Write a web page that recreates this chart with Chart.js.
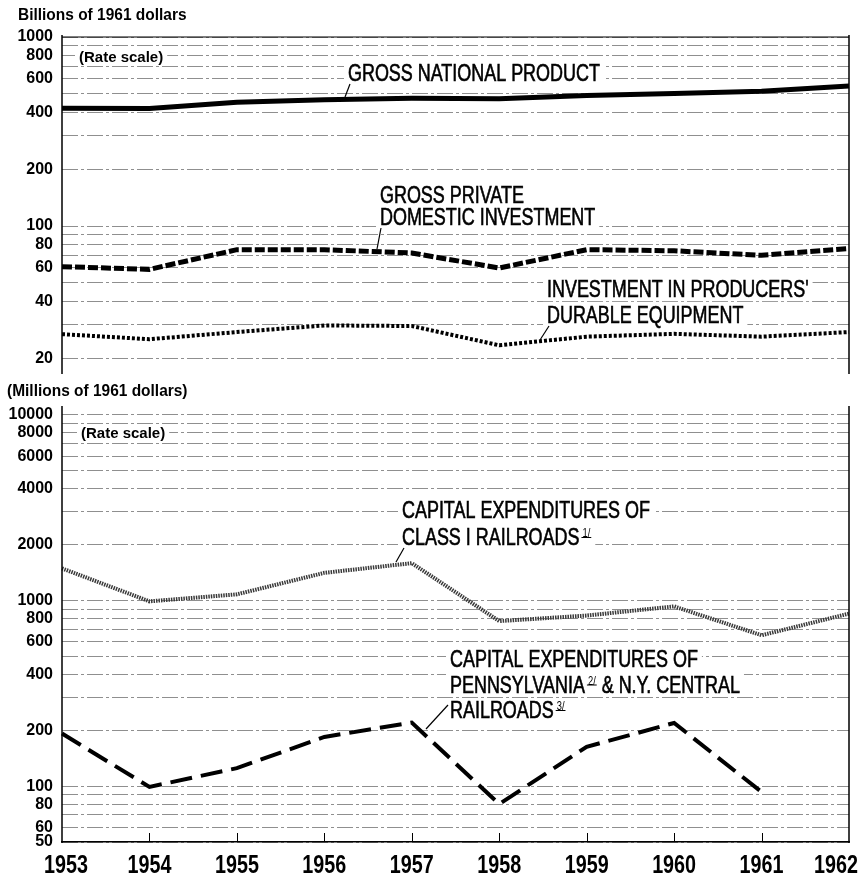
<!DOCTYPE html>
<html lang="en">
<head>
    <meta charset="UTF-8">
    <title>Investment and railroad capital expenditures, 1953-1962</title>
    <script src="https://cdn.jsdelivr.net/npm/chart.js"></script>
    <style>
        body {
            margin: 0;
            background-color: #fff;
        }
        #page {
            position: relative;
            width: 862px;
            height: 875px;
            overflow: hidden;
        }
        canvas {
            position: absolute;
            left: 0;
        }
        #topChart { top: 0; }
        #bottomChart { top: 376px; }
        .unit {
            position: absolute;
            font: bold 17px 'Liberation Sans', Arial, sans-serif;
            line-height: 1;
            white-space: nowrap;
            color: #000;
            transform: scaleX(0.91);
            transform-origin: left top;
        }
    </style>
</head>
<body>
    <div id="page">
        <canvas id="topChart" width="862" height="380"></canvas>
        <canvas id="bottomChart" width="862" height="499"></canvas>
        <div class="unit" style="left:18px; top:6px;">Billions of 1961 dollars</div>
        <div class="unit" style="left:7px; top:382px;">(Millions of 1961 dollars)</div>
    </div>

    <script>
        // Data
        const years = ['1953', '1954', '1955', '1956', '1957', '1958', '1959', '1960', '1961', '1962'];
        const grossNationalProduct = [420, 418, 452, 466, 474, 471, 490, 503, 516, 550];
        const grossPrivateInvestment = [61, 59, 75, 75, 72, 60, 75, 74, 70, 76];
        const equipmentInvestment = [26.8, 25.2, 27.5, 29.8, 29.6, 23.4, 26, 26.9, 26, 27.5];
        const classOneRailroads = [1490, 990, 1080, 1410, 1590, 775, 830, 930, 650, 850];
        const pennNyCentral = [192, 99, 125, 184, 220, 80, 163, 219, 93, null];

        // Rate-scale grid lines and the values that get a label
        const topGridValues = [20, 30, 40, 50, 60, 70, 80, 90, 100, 200, 300, 400, 500, 600, 700, 800, 900, 1000];
        const topTickLabels = [20, 40, 60, 80, 100, 200, 400, 600, 800, 1000];
        const bottomGridValues = [50, 60, 70, 80, 90, 100, 200, 300, 400, 500, 600, 700, 800, 900,
            1000, 2000, 3000, 4000, 5000, 6000, 7000, 8000, 9000, 10000];
        const bottomTickLabels = [50, 60, 80, 100, 200, 400, 600, 800, 1000, 2000, 4000, 6000, 8000, 10000];

        const FONT = "'Liberation Sans', Arial, sans-serif";
        Chart.defaults.font.family = FONT;
        Chart.defaults.color = '#000';
        Chart.defaults.animation = false;

        // Labels drawn onto the plot, with leader lines (page coordinates)
        const topNotes = [
            { x: 79, y: 62, size: 15, bold: true, sx: 1, lines: [[{ t: '(Rate scale)' }]] },
            { x: 348, y: 81, size: 23, lines: [[{ t: 'GROSS NATIONAL PRODUCT' }]], leader: [350, 84, 345, 97] },
            { x: 380, y: 203, size: 23, gap: 22, lines: [[{ t: 'GROSS PRIVATE' }], [{ t: 'DOMESTIC INVESTMENT' }]],
              leader: [381, 228, 377, 249] },
            { x: 547, y: 297, size: 23, gap: 26, lines: [[{ t: "INVESTMENT IN PRODUCERS'" }], [{ t: 'DURABLE EQUIPMENT' }]],
              leader: [549, 326, 540, 340] }
        ];
        const bottomNotes = [
            { x: 81, y: 438, size: 15, bold: true, sx: 1, lines: [[{ t: '(Rate scale)' }]] },
            { x: 402, y: 518, size: 23, gap: 27, lines: [[{ t: 'CAPITAL EXPENDITURES OF' }],
                [{ t: 'CLASS I RAILROADS' }, { t: '1/', sup: true }]], leader: [404, 548, 396, 562] },
            { x: 450, y: 667, size: 23, gap: 25.5, lines: [[{ t: 'CAPITAL EXPENDITURES OF' }],
                [{ t: 'PENNSYLVANIA' }, { t: '2/', sup: true }, { t: ' & N.Y. CENTRAL' }],
                [{ t: 'RAILROADS' }, { t: '3/', sup: true }]], leader: [448, 705, 426, 729] }
        ];

        // narrow lettering: draw text squeezed horizontally, with a light outline to thicken strokes
        function squeezedText(ctx, text, x, y, sx, heavy) {
            ctx.save();
            ctx.translate(x, y);
            ctx.scale(sx, 1);
            ctx.fillText(text, 0, 0);
            if (heavy) {
                ctx.strokeStyle = '#000';
                ctx.lineWidth = 0.6;
                ctx.strokeText(text, 0, 0);
            }
            ctx.restore();
            return ctx.measureText(text).width * sx;
        }

        function notesPlugin(notes, dy) {
            return {
                id: 'notes',
                afterDatasetsDraw(chart) {
                    const ctx = chart.ctx;
                    ctx.save();
                    notes.forEach(function(n) {
                        const sx = n.sx || 0.78;
                        const main = (n.bold ? 'bold ' : '') + n.size + 'px ' + FONT;
                        const sup = '12px ' + FONT;
                        n.lines.forEach(function(parts, i) {
                            const base = n.y + i * (n.gap || 0) - dy;
                            let w = 0;
                            parts.forEach(function(p) {
                                ctx.font = p.sup ? sup : main;
                                w += ctx.measureText(p.t).width * sx + (p.sup ? 4 : 0);
                            });
                            ctx.fillStyle = '#fff';
                            ctx.fillRect(n.x - 4, base - n.size * 0.82, w + 8, n.size * 1.0);
                            ctx.fillStyle = '#000';
                            ctx.textBaseline = 'alphabetic';
                            let x = n.x;
                            parts.forEach(function(p) {
                                ctx.font = p.sup ? sup : main;
                                if (p.sup) {
                                    const pw = squeezedText(ctx, p.t, x + 3, base - 8, sx, false);
                                    ctx.strokeStyle = '#000';
                                    ctx.lineWidth = 1;
                                    ctx.beginPath();
                                    ctx.moveTo(x + 2, base - 7.5);
                                    ctx.lineTo(x + pw + 4, base - 7.5);
                                    ctx.stroke();
                                    x += pw + 4;
                                } else {
                                    x += squeezedText(ctx, p.t, x, base, sx, !n.bold);
                                }
                            });
                        });
                        if (n.leader) {
                            const l = n.leader;
                            ctx.strokeStyle = '#000';
                            ctx.lineWidth = 1.2;
                            ctx.beginPath();
                            ctx.moveTo(l[0], l[1] - dy);
                            ctx.lineTo(l[2], l[3] - dy);
                            ctx.stroke();
                        }
                    });
                    ctx.restore();
                }
            };
        }

        // Axis frame: left and right rules; year ticks and year labels on the bottom panel
        function framePlugin(withYears) {
            return {
                id: 'frame',
                afterDraw(chart) {
                    const ctx = chart.ctx;
                    const a = chart.chartArea;
                    ctx.save();
                    ctx.strokeStyle = '#000';
                    ctx.lineWidth = 1.5;
                    ctx.beginPath();
                    ctx.moveTo(a.left, a.top - 2);
                    ctx.lineTo(a.left, a.bottom + 1);
                    ctx.moveTo(a.right, a.top - 2);
                    ctx.lineTo(a.right, a.bottom + 1);
                    ctx.stroke();
                    if (withYears) {
                        const xs = chart.scales.x;
                        ctx.lineWidth = 1;
                        ctx.beginPath();
                        for (let i = 1; i < years.length - 1; i++) {
                            const px = Math.round(xs.getPixelForValue(i)) + 0.5;
                            ctx.moveTo(px, a.bottom);
                            ctx.lineTo(px, a.bottom - 9);
                        }
                        ctx.stroke();
                        ctx.font = 'bold 26px ' + FONT;
                        ctx.fillStyle = '#000';
                        ctx.textBaseline = 'alphabetic';
                        const sx = 0.76;
                        years.forEach(function(y, i) {
                            const w = ctx.measureText(y).width * sx;
                            let left = xs.getPixelForValue(i) - w / 2;
                            left = Math.max(44, Math.min(left, 858 - w));
                            squeezedText(ctx, y, left, a.bottom + 31, sx, false);
                        });
                    } else {
                        ctx.lineWidth = 1.2;
                        ctx.beginPath();
                        ctx.moveTo(a.left, a.top);
                        ctx.lineTo(a.right, a.top);
                        ctx.stroke();
                    }
                    ctx.restore();
                }
            };
        }

        function rateAxis(min, max, gridValues, labelValues) {
            return {
                type: 'logarithmic',
                min: min,
                max: max,
                afterBuildTicks: function(scale) {
                    scale.ticks = gridValues.map(function(v) { return { value: v }; });
                },
                afterFit: function(scale) {
                    scale.width = 62;
                    scale.paddingTop = 0;
                    scale.paddingBottom = 0;
                },
                ticks: {
                    autoSkip: false,
                    padding: 9,
                    font: { size: 16, weight: 'bold' },
                    callback: function(value) {
                        return labelValues.includes(value) ? String(value) : '';
                    }
                },
                grid: {
                    color: '#8f8f8f',
                    lineWidth: 1,
                    drawTicks: false,
                    borderDash: [16, 3, 3, 3]
                },
                border: { display: false, dash: [16, 3, 3, 3] }
            };
        }

        function lineSet(label, data, color, width, dash) {
            return {
                label: label,
                data: data,
                borderColor: color,
                borderWidth: width,
                borderDash: dash,
                borderCapStyle: 'butt',
                borderJoinStyle: 'miter',
                pointRadius: 0,
                tension: 0,
                fill: false
            };
        }

        // Top panel: billions of 1961 dollars
        new Chart(document.getElementById('topChart'), {
            type: 'line',
            data: {
                labels: years,
                datasets: [
                    lineSet('Gross national product', grossNationalProduct, '#000', 5, []),
                    lineSet('Gross private domestic investment', grossPrivateInvestment, '#000', 5, [10, 3]),
                    lineSet("Investment in producers' durable equipment", equipmentInvestment, '#000', 4, [3, 2])
                ]
            },
            options: {
                responsive: false,
                layout: { padding: { top: 37, right: 13, bottom: 7, left: 0 } },
                plugins: { legend: { display: false }, tooltip: { enabled: false } },
                scales: {
                    x: { display: false, offset: false },
                    y: rateAxis(16.7, 1000, topGridValues, topTickLabels)
                }
            },
            plugins: [notesPlugin(topNotes, 0), framePlugin(false)]
        });

        // Bottom panel: millions of 1961 dollars
        new Chart(document.getElementById('bottomChart'), {
            type: 'line',
            data: {
                labels: years,
                datasets: [
                    lineSet('Capital expenditures of Class I railroads', classOneRailroads, '#3a3a3a', 4, [1.5, 1]),
                    lineSet('Capital expenditures of Pennsylvania & N.Y. Central railroads', pennNyCentral, '#000', 4, [22, 9])
                ]
            },
            options: {
                responsive: false,
                layout: { padding: { top: 32, right: 13, bottom: 0, left: 0 } },
                plugins: { legend: { display: false }, tooltip: { enabled: false } },
                scales: {
                    x: {
                        offset: false,
                        afterFit: function(scale) {
                            scale.height = 33;
                            scale.paddingLeft = 0;
                            scale.paddingRight = 0;
                        },
                        grid: { display: false, drawTicks: false },
                        border: { display: true, color: '#000', width: 1.5 },
                        ticks: { display: false }
                    },
                    y: rateAxis(50, 10900, bottomGridValues, bottomTickLabels)
                }
            },
            plugins: [notesPlugin(bottomNotes, 376), framePlugin(true)]
        });
    </script>
</body>
</html>
